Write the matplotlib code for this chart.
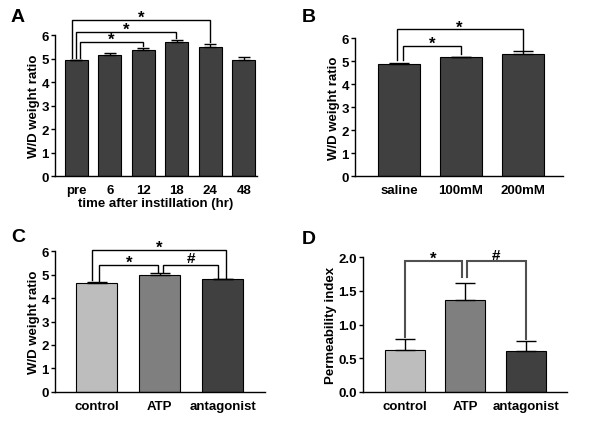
import matplotlib
matplotlib.use("Agg")
import matplotlib.pyplot as plt
import numpy as np

plt.rcParams['font.family'] = ['Liberation Sans', 'DejaVu Sans']
plt.rcParams['font.weight'] = 'bold'

# ---- data ----
a_labels = ['pre', '6', '12', '18', '24', '48']
a_values = [4.93, 5.15, 5.38, 5.72, 5.50, 4.95]
a_errors = [0.03, 0.10, 0.09, 0.09, 0.12, 0.13]

b_labels = ['saline', '100mM', '200mM']
b_values = [4.87, 5.17, 5.33]
b_errors = [0.04, 0.03, 0.09]

c_labels = ['control', 'ATP', 'antagonist']
c_values = [4.63, 4.99, 4.79]
c_errors = [0.07, 0.06, 0.03]

d_labels = ['control', 'ATP', 'antagonist']
d_values = [0.63, 1.37, 0.61]
d_errors = [0.15, 0.25, 0.14]

dark = '#404040'
cd_colors = ['#bdbdbd', '#7f7f7f', '#404040']

TICK_FS = 9.5
LAB_FS = 9.5

fig = plt.figure(figsize=(6, 4.35), dpi=100)

def style(ax, ylim, yticks, fmt=None):
    ax.set_ylim(*ylim)
    ax.set_yticks(yticks)
    if fmt:
        ax.set_yticklabels([fmt % t for t in yticks])
    for s in ['top', 'right']:
        ax.spines[s].set_visible(False)
    for s in ['left', 'bottom']:
        ax.spines[s].set_linewidth(1.0)
    ax.tick_params(axis='both', labelsize=TICK_FS, width=1.0, length=3, pad=1.5)
    ax.tick_params(axis='x', length=0, pad=5.5)
    for lab in ax.get_xticklabels() + ax.get_yticklabels():
        lab.set_fontweight('bold')

def bars(ax, labels, values, errors, colors, width, capsize):
    x = np.arange(len(labels))
    ax.bar(x, values, width=width, color=colors, edgecolor='black', linewidth=0.8, zorder=2)
    ax.errorbar(x, values, yerr=[np.zeros(len(values)), errors], fmt='none',
                ecolor='black', elinewidth=1.0, capsize=capsize, capthick=1.0, zorder=3)
    ax.set_xticks(x)
    ax.set_xticklabels(labels)

def bracket(ax, x1, x2, y, yb1, yb2, text, color='black', lw=1.0, dy=0.0, fs=12):
    ax.plot([x1, x1, x2, x2], [yb1, y, y, yb2], color=color, lw=lw, clip_on=False, zorder=4,
            solid_joinstyle='miter')
    ax.text((x1 + x2) / 2, y + dy, text, ha='center', va='bottom', fontsize=fs,
            fontweight='bold', clip_on=False)

# Panel A
axA = fig.add_axes([0.0917, 0.593, 0.337, 0.324])
bars(axA, a_labels, a_values, a_errors, dark, 0.69, 4.0)
axA.set_xlim(-0.64, 5.4)
style(axA, (0, 6), range(0, 7))
axA.set_ylabel('W/D weight ratio', fontsize=LAB_FS, fontweight='bold', labelpad=1)
axA.set_xlabel('time after instillation (hr)', fontsize=LAB_FS, fontweight='bold', labelpad=1)
bracket(axA, 0.10, 2.0, 5.72, 5.02, 5.55, '*', dy=-0.22)
bracket(axA, -0.02, 2.98, 6.14, 5.02, 5.86, '*', dy=-0.22)
bracket(axA, -0.14, 3.98, 6.66, 5.02, 5.70, '*', dy=-0.22)

# Panel B
axB = fig.add_axes([0.592, 0.593, 0.347, 0.317])
bars(axB, b_labels, b_values, b_errors, dark, 0.68, 7.0)
axB.set_xlim(-0.71, 2.66)
style(axB, (0, 6), range(0, 7))
axB.set_ylabel('W/D weight ratio', fontsize=LAB_FS, fontweight='bold', labelpad=1)
bracket(axB, 0.07, 1.0, 5.65, 5.05, 5.30, '*', dy=-0.22)
bracket(axB, -0.04, 2.0, 6.38, 5.05, 5.46, '*', dy=-0.22)

# Panel C
axC = fig.add_axes([0.0917, 0.0966, 0.35, 0.324])
bars(axC, c_labels, c_values, c_errors, cd_colors, 0.65, 7.0)
axC.set_xlim(-0.66, 2.67)
style(axC, (0, 6), range(0, 7))
axC.set_ylabel('W/D weight ratio', fontsize=LAB_FS, fontweight='bold', labelpad=1)
bracket(axC, 0.04, 0.98, 5.42, 4.72, 5.10, '*', dy=-0.22)
bracket(axC, 1.05, 1.93, 5.42, 5.10, 4.85, '#', dy=-0.03, fs=11)
bracket(axC, -0.08, 2.05, 6.06, 4.75, 4.85, '*', dy=-0.22)

# Panel D
axD = fig.add_axes([0.605, 0.0966, 0.34, 0.310])
bars(axD, d_labels, d_values, d_errors, cd_colors, 0.66, 7.5)
axD.set_xlim(-0.69, 2.68)
style(axD, (0, 2), [0, 0.5, 1.0, 1.5, 2.0], '%.1f')
axD.set_ylabel('Permeability index', fontsize=LAB_FS, fontweight='bold', labelpad=1)
bracket(axD, 0.0, 0.94, 1.94, 0.81, 1.70, '*', color='#505050', lw=1.5, dy=-0.07)
bracket(axD, 1.02, 2.0, 1.94, 1.70, 0.79, '#', color='#505050', lw=1.5, dy=-0.01, fs=11)

# Panel letters
for lbl, (x, y) in zip('ABCD', [(0.018, 0.94), (0.503, 0.94), (0.018, 0.434), (0.503, 0.429)]):
    fig.text(x, y, lbl, fontsize=14, fontweight='bold', ha='left', va='bottom')

fig.savefig('out.png', dpi=100)
